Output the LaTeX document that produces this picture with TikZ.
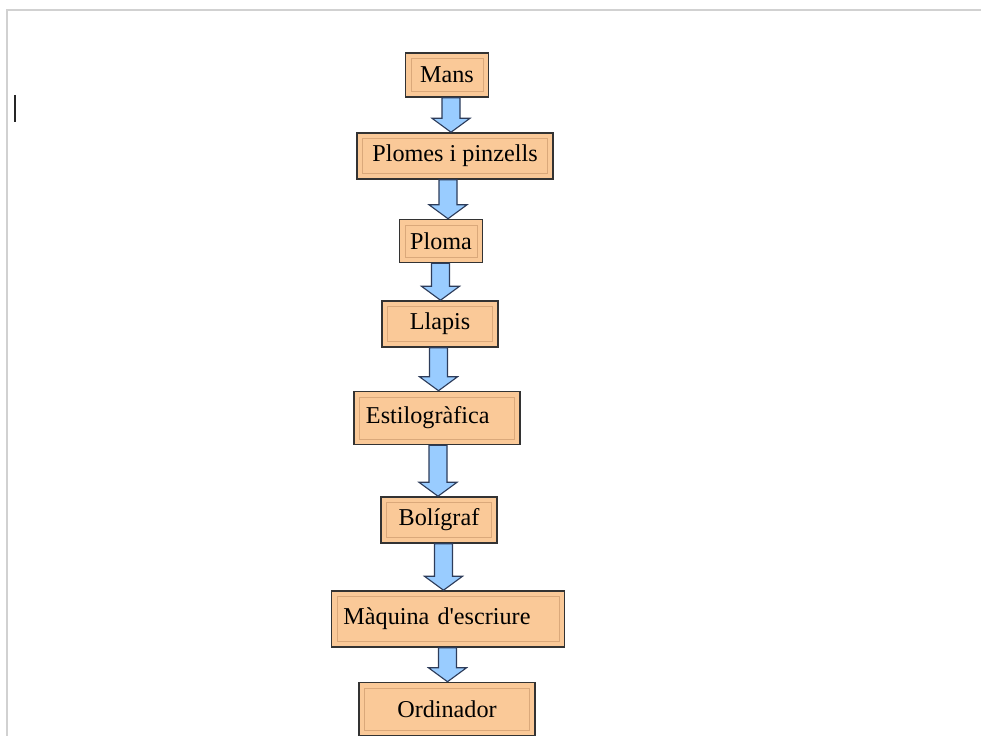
\documentclass[tikz,border=0pt]{standalone}
\usepackage{fontspec}
\setmainfont{Liberation Serif}
\usetikzlibrary{calc}

\definecolor{salmo}{RGB}{250,201,152}
\definecolor{salmofosc}{RGB}{218,168,122}
\definecolor{blaucel}{RGB}{153,204,255}
\definecolor{blauvora}{RGB}{45,60,90}

\tikzset{
  caixa/.style={draw=black!80, line width=1.1pt, fill=salmo, inner sep=0pt,
    font=\fontsize{17.2}{20}\selectfont,
    path picture={\draw[salmofosc, line width=0.5pt]
      ([shift={(4pt,4pt)}]path picture bounding box.south west) rectangle
      ([shift={(-4pt,-4pt)}]path picture bounding box.north east);}},
  esquerra/.style={align=left, inner xsep=0.3cm},
  fletxa/.style={fill=blaucel, draw=blauvora, line width=0.8pt, line join=miter}
}

% fletxa ampla cap avall entre dues caixes
\newcommand{\baixa}[2]{%
  \path[fletxa] let \p1=(#1.south), \p2=(#2.north), \p3=($(#1.south)!0.5!(#2.north)$) in
    (\x3-6.4pt,\y1) -- (\x3-6.4pt,\y2+9.9pt) -- (\x3-13.5pt,\y2+9.9pt) -- (\x3,\y2)
    -- (\x3+13.5pt,\y2+9.9pt) -- (\x3+6.4pt,\y2+9.9pt) -- (\x3+6.4pt,\y1) -- cycle;}

\begin{document}
\begin{tikzpicture}[x=0.025cm, y=-0.025cm]
  \useasboundingbox (0,0) rectangle (981,736);
  % vora de la pagina i cursor
  \draw[black!18, line width=1.4pt] (7,736) -- (7,10) -- (981,10);
  \draw[black!85, line width=2pt] (15,95) -- (15,122);

  \node[caixa, minimum width=2.075cm, minimum height=1.1cm] (mans) at (447,75) {Mans};
  \node[caixa, minimum width=4.9cm, minimum height=1.15cm] (plomes) at (455,156) {Plomes i pinzells};
  \node[caixa, minimum width=2.075cm, minimum height=1.075cm] (ploma) at (441,241) {Ploma};
  \node[caixa, minimum width=2.9cm, minimum height=1.15cm] (llapis) at (440,324) {Llapis};
  \node[caixa, esquerra, text width=3.55cm, minimum height=1.325cm] (estilo) at (437,418) {Estilogràfica};
  \node[caixa, minimum width=2.9cm, minimum height=1.15cm] (boli) at (439,520) {Bolígraf};
  \node[caixa, esquerra, text width=5.225cm, minimum height=1.4cm] (maquina) at (448,619) {Màquina d\textquotesingle escriure};
  \node[caixa, minimum width=4.4cm, minimum height=1.325cm] (ordinador) at (447,709) {Ordinador};

  \baixa{mans}{plomes}
  \baixa{plomes}{ploma}
  \baixa{ploma}{llapis}
  \baixa{llapis}{estilo}
  \baixa{estilo}{boli}
  \baixa{boli}{maquina}
  \baixa{maquina}{ordinador}
\end{tikzpicture}
\end{document}
